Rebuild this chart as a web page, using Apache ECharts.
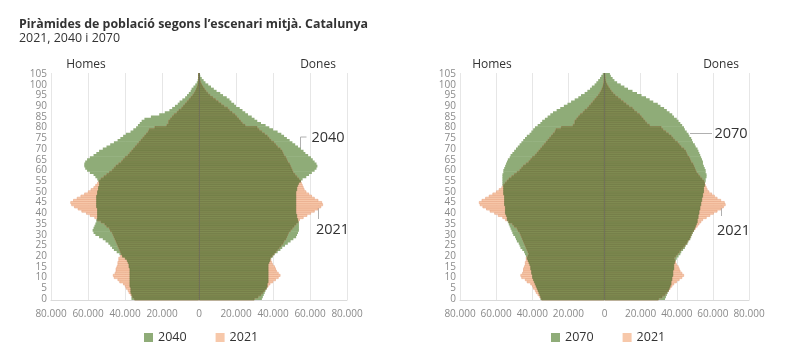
<!DOCTYPE html>
<html><head><meta charset="utf-8">
<script src="https://cdn.jsdelivr.net/npm/echarts@6/dist/echarts.min.js"></script>
<style>html,body{margin:0;padding:0;background:#fff}#c{width:800px;height:360px}</style>
</head><body><div id="c"></div>
<script>
// ---------------- data ----------------
const ages = ['0','1','2','3','4','5','6','7','8','9','10','11','12','13','14','15','16','17','18','19',
 '20','21','22','23','24','25','26','27','28','29','30','31','32','33','34','35','36','37','38','39',
 '40','41','42','43','44','45','46','47','48','49','50','51','52','53','54','55','56','57','58','59',
 '60','61','62','63','64','65','66','67','68','69','70','71','72','73','74','75','76','77','78','79',
 '80','81','82','83','84','85','86','87','88','89','90','91','92','93','94','95','96','97','98','99',
 '100','101','102','103','104','105'];

const men2021 = [35000,36000,37000,38000,38500,39500,40000,41000,43000,44000,
 46000,46500,45500,45000,45000,44500,44000,44000,43500,43500,
 42500,42000,42500,43000,43500,44000,44500,45000,45500,46000,
 46500,47000,48000,48500,50000,51000,53000,55000,56500,59000,
 61000,63500,65500,67500,69000,69500,68000,66000,64000,62000,
 60000,58500,57000,56000,55000,54000,53000,51500,50000,48500,
 47000,46000,45000,43500,42000,41000,40000,38500,37500,36500,
 35500,34500,33500,32500,31500,30500,29500,28500,27500,27000,
 24000,17500,16500,16500,15500,14500,13500,12000,11000,9500,
 8500,7500,6500,5500,4500,3500,2700,2000,1500,1000,
 700,400,250,150,100,50];

const women2021 = [30000,32000,33500,34500,35500,36500,37500,38500,40000,41500,
 43000,44000,43000,42000,41500,41000,40000,39500,39000,38500,
 39500,40500,41500,42500,43500,44500,45500,46000,47000,47500,
 48000,48500,49500,50500,51500,52500,53500,54500,56500,58500,
 60500,62500,64500,66000,67000,66500,64500,62500,61000,59500,
 58000,57000,56500,56000,55500,55000,54000,53000,52000,51000,
 50500,50000,49500,49000,48000,47500,47000,46000,45500,45000,
 44000,42500,41500,40500,39000,38000,37000,35500,34000,32500,
 31500,25000,23500,22500,21500,20500,19500,18000,16500,15500,
 13500,12000,10500,9000,7500,6000,4800,3800,3000,2200,
 1500,900,600,350,200,100];

const men2040 = [36500,36500,36500,37000,37000,37000,37500,37500,37500,37500,
 37500,37500,37500,37500,37500,38000,38000,38500,39000,40000,
 41500,43000,44500,46000,47000,48000,49000,50500,52000,54000,
 56000,57000,57500,57000,56500,56000,55500,55500,55000,55000,
 55000,55000,55000,55500,55500,55500,55500,55500,55500,55000,
 55000,54500,54500,54000,54000,54500,55000,56000,57000,59000,
 60500,61500,62000,62000,61500,60500,59000,57000,55500,54000,
 52000,50000,48000,46000,44000,42500,41000,39500,37000,35500,
 34000,33000,32000,31000,29500,26000,21500,18500,16000,14500,
 13000,11500,10500,9000,7500,6500,5500,4500,4000,3000,
 2000,1200,700,400,200,100];

const women2040 = [34000,34500,35000,35500,36000,36500,37000,37000,37500,37500,
 37500,37500,37500,37500,37500,37500,37500,38000,38500,39000,
 40000,41000,42500,44000,45000,46500,48000,49500,51000,52500,
 53000,53500,54000,54000,54000,54000,54000,53500,53000,53000,
 52500,52500,52500,52500,52500,52500,52500,52500,52500,52500,
 52500,53000,53000,53500,54000,55000,56000,58000,59500,61000,
 62500,63500,64000,63500,62500,61500,60500,59000,57500,56500,
 55000,53500,52000,50500,49000,47500,46000,44500,42500,40000,
 38000,36000,33500,31500,30000,28500,26500,25000,23500,22000,
 20000,19000,17500,16500,15000,13000,11500,9500,8000,6500,
 5000,3500,2500,1500,700,300];

const men2070 = [35500,35500,36000,36500,37000,37500,38000,38500,39000,39500,
 40000,40000,40500,40500,41000,41000,41500,42000,42500,43000,
 43500,44000,44500,45500,46500,47000,47500,48500,49000,49500,
 50500,51000,51500,52000,52500,53000,53500,54000,54000,54500,
 55000,55000,55000,55000,55500,55500,55500,55500,55500,56000,
 56000,56000,56000,56500,56500,56500,56500,56500,56500,56000,
 56000,55500,55000,54500,54000,53500,52500,52000,51000,50000,
 49000,48000,47000,46000,45000,44000,43000,41500,40500,39500,
 38500,37000,35500,34500,33000,31500,30000,28500,26500,24500,
 22500,20500,18500,16500,14500,13000,11000,9500,8000,7000,
 5500,4500,3500,2500,1800,1000];

const women2070 = [33500,34000,34500,35000,35500,36000,36500,37000,37000,37500,
 37500,38000,38000,38000,38500,38500,38500,39000,39500,40000,
 41000,42000,42500,43500,44500,45000,46000,46500,47500,48000,
 48500,49000,49500,50000,50500,51000,51500,51500,52000,52000,
 52500,52500,53000,53000,53500,53500,54000,54000,54500,54500,
 55000,55000,55000,55500,55500,56000,56000,56500,56500,56000,
 56000,55500,55000,54500,54500,54000,53500,53000,52500,52000,
 51500,50500,50000,49000,48500,48000,47000,46500,45500,44500,
 44000,43000,42000,41000,40000,38500,37500,36000,34500,33000,
 31000,29500,27000,25000,23000,20500,18000,15500,13000,11000,
 9000,7000,5500,4500,3500,3000];

const xTickValues = [-80000,-60000,-40000,-20000,0,20000,40000,60000,80000];

// ---------------- styling ----------------
const FONT = '"Open Sans", sans-serif';
const GREEN = '#8fac78';
const PEACH = '#f7c8aa', PEACH_LINE = '#e7a685';
const OLIVE = '#7f8b51', OLIVE_LINE = '#6c7743';
const LABEL = '#8a8a8a';
const BAR_W = 2.8;
const fmt = v => String(Math.abs(v)).replace(/\B(?=(\d{3})+(?!\d))/g, '.');
const neg = a => a.map(v => -v);
// overlap of the two years (part of 2021 bar covered by the projected bar)
const overlap = (a, b) => a.map((v, k) => Math.min(v, b[k]));

function xAxisFor(i) {
  return {
    gridIndex: i, type: 'value',
    min: xTickValues[0], max: xTickValues[xTickValues.length - 1], interval: 20000,
    axisLine: {show: true, lineStyle: {color: '#dadada'}},
    axisTick: {show: false},
    axisLabel: {formatter: fmt, color: LABEL, fontSize: 10, fontFamily: FONT, margin: 9},
    splitLine: {show: true, lineStyle: {color: '#e6e6e6'}}
  };
}
function yAxisFor(i) {
  return {
    gridIndex: i, type: 'category', data: ages,
    axisLine: {show: false}, axisTick: {show: false},
    axisLabel: {interval: 4, color: LABEL, fontSize: 10, fontFamily: FONT, margin: 4},
    splitLine: {show: false}
  };
}
function pyramid(i, name, menBig, womenBig) {
  const common = {type: 'bar', xAxisIndex: i, yAxisIndex: i, barGap: '-100%', barWidth: BAR_W, silent: true};
  const greenStyle = {color: GREEN};
  const peachStyle = {color: PEACH, borderColor: PEACH_LINE, borderWidth: 0.6};
  const oliveStyle = {color: OLIVE, borderColor: OLIVE_LINE, borderWidth: 0.6};
  return [
    Object.assign({}, common, {name: name, data: neg(menBig), itemStyle: greenStyle}),
    Object.assign({}, common, {name: name, data: womenBig, itemStyle: greenStyle}),
    Object.assign({}, common, {name: '2021', data: neg(men2021), itemStyle: peachStyle}),
    Object.assign({}, common, {name: '2021', data: women2021, itemStyle: peachStyle}),
    Object.assign({}, common, {name: 'overlap', data: neg(overlap(men2021, menBig)), itemStyle: oliveStyle}),
    Object.assign({}, common, {name: 'overlap', data: overlap(women2021, womenBig), itemStyle: oliveStyle,
      markLine: {silent: true, symbol: 'none', label: {show: false},
        lineStyle: {color: 'rgba(100,100,100,0.5)', width: 1, type: 'solid'},
        data: [{xAxis: 0}]}})
  ];
}
function legendFor(left, items) {
  return {
    data: items, left: left, top: 331, orient: 'horizontal', padding: 0,
    icon: 'rect', itemWidth: 9, itemHeight: 9, itemGap: 29, selectedMode: false,
    itemStyle: {borderWidth: 0},
    textStyle: {color: '#333', fontSize: 12.5, fontFamily: FONT}
  };
}
const txt = (x, y, text, size, weight, align) => ({
  type: 'text', x: x, y: y, silent: true,
  style: {text: text, fill: '#333', font: (weight || 'normal') + ' ' + size + 'px ' + FONT,
    textAlign: align || 'left', textVerticalAlign: 'middle'}
});
const line = (pts) => ({type: 'polyline', silent: true, shape: {points: pts},
  style: {stroke: '#b0b0b0', lineWidth: 1, fill: null}});

const option = {
  backgroundColor: '#fff',
  animation: false,
  grid: [
    {left: 51, right: 453, top: 73, bottom: 60},
    {left: 460, right: 51, top: 73, bottom: 60}
  ],
  xAxis: [xAxisFor(0), xAxisFor(1)],
  yAxis: [yAxisFor(0), yAxisFor(1)],
  legend: [legendFor(144, ['2040', '2021']), legendFor(551, ['2070', '2021'])],
  series: [].concat(pyramid(0, '2040', men2040, women2040), pyramid(1, '2070', men2070, women2070)),
  graphic: [
    txt(19, 24, 'Piràmides de població segons l’escenari mitjà. Catalunya', 12.4, 'bold'),
    txt(19, 38.5, '2021, 2040 i 2070', 12.4),
    txt(86, 64.5, 'Homes', 12, 'normal', 'center'),
    txt(318, 64.5, 'Dones', 12, 'normal', 'center'),
    txt(492, 64.5, 'Homes', 12, 'normal', 'center'),
    txt(721, 64.5, 'Dones', 12, 'normal', 'center'),
    txt(311.5, 137.5, '2040', 14.5),
    txt(316, 229.5, '2021', 14.5),
    txt(714.5, 133.5, '2070', 14.5),
    txt(717, 231, '2021', 14.5),
    line([[306.5, 137], [300.5, 137], [300.5, 152]]),
    line([[318.5, 205], [318.5, 219]]),
    line([[690, 133.5], [712, 133.5]]),
    line([[721.5, 205], [721.5, 216]])
  ]
};
const chart = echarts.init(document.getElementById('c'), null, {renderer: 'canvas'});
chart.setOption(option);
</script>
</body></html>
